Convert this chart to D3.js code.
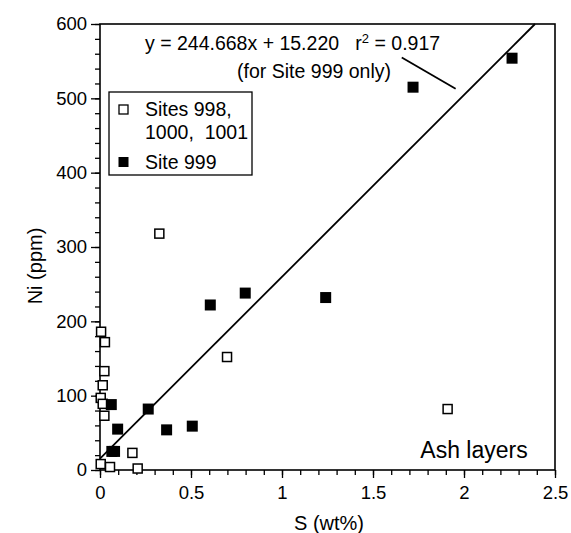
<!DOCTYPE html>
<html><head><meta charset="utf-8">
<script src="https://cdn.jsdelivr.net/npm/d3@7"></script>
<style>body{margin:0;background:#fff}svg{display:block}text{font-family:"Liberation Sans",Arial,sans-serif;fill:#000;white-space:pre}</style>
</head><body>
<svg id="c" width="571" height="533"></svg>
<script>
// Data
const openS  = [0.006,0.027,0.024,0.015,0.004,0.015,0.024,0.004,0.055,0.178,0.207,0.326,0.698,1.91];
const openNi = [186,172,133,114,97,89,73,8,4,23,2,318,152,82];
const fillS  = [0.062,0.097,0.065,0.08,0.265,0.366,0.507,0.606,0.798,1.24,1.72,2.264];
const fillNi = [88,55,25,25,82,54,59,222,238,232,515,554];
const slope = 244.668, intercept = 15.220;
const xTicks = [0,0.5,1,1.5,2,2.5];
const xTickLabels = ["0","0.5","1","1.5","2","2.5"];
const yTicks = [0,100,200,300,400,500,600];
const leaderS = [1.658,1.954], leaderNi = [555,513];
const legendLabels = [["Sites 998,","1000,  1001"],["Site 999"]];

const svg = d3.select("#c");
const x = d3.scaleLinear().domain([0,2.5]).range([100,555]);
const y = d3.scaleLinear().domain([0,600]).range([470,24]);

// frame
svg.append("rect").attr("x",100).attr("y",24).attr("width",455).attr("height",446)
  .attr("fill","none").attr("stroke","#000").attr("stroke-width",1.6);

// axes
const xMinor = d3.range(0,2.5001,0.1);
const yMinor = d3.range(0,600.1,20);
const gx = svg.append("g").attr("transform","translate(0,470)");
gx.call(d3.axisBottom(x).tickValues(xMinor).tickSize(5).tickFormat(""));
gx.call(g=>g.select(".domain").remove());
const gx2 = svg.append("g").attr("transform","translate(0,470)");
gx2.call(d3.axisBottom(x).tickValues(xTicks).tickSize(8).tickPadding(8).tickFormat((d,i)=>xTickLabels[i]));
gx2.select(".domain").remove();
gx2.selectAll("text").attr("font-size",18.5).attr("font-family","Liberation Sans, Arial, sans-serif");
const gy = svg.append("g").attr("transform","translate(100,0)");
gy.call(d3.axisLeft(y).tickValues(yMinor).tickSize(5).tickFormat(""));
gy.select(".domain").remove();
const gy2 = svg.append("g").attr("transform","translate(100,0)");
gy2.call(d3.axisLeft(y).tickValues(yTicks).tickSize(9).tickPadding(4));
gy2.select(".domain").remove();
gy2.selectAll("text").attr("font-size",18.5).attr("font-family","Liberation Sans, Arial, sans-serif");
svg.selectAll(".tick line").attr("stroke","#000").attr("stroke-width",1.3);

// regression line
const xEnd = (600-intercept)/slope;
svg.append("line").attr("x1",x(0)).attr("y1",y(intercept)).attr("x2",x(xEnd)).attr("y2",y(600))
  .attr("stroke","#000").attr("stroke-width",1.8);
svg.append("line").attr("x1",x(leaderS[0])).attr("y1",y(leaderNi[0])).attr("x2",x(leaderS[1])).attr("y2",y(leaderNi[1]))
  .attr("stroke","#000").attr("stroke-width",1.8);

// points
const open = openS.map((s,i)=>({s,ni:openNi[i]}));
const fill = fillS.map((s,i)=>({s,ni:fillNi[i]}));
svg.append("g").selectAll("rect").data(open).join("rect")
  .attr("x",d=>x(d.s)-4.5).attr("y",d=>y(d.ni)-4.5).attr("width",9).attr("height",9)
  .attr("fill","#fff").attr("stroke","#000").attr("stroke-width",1.5);
svg.append("g").selectAll("rect").data(fill).join("rect")
  .attr("x",d=>x(d.s)-5.5).attr("y",d=>y(d.ni)-5.5).attr("width",11).attr("height",11)
  .attr("fill","#000");

// equation
const eq = svg.append("text").attr("x",145).attr("y",50).attr("font-size",19.5);
eq.append("tspan").text("y = 244.668x + 15.220   r");
eq.append("tspan").attr("font-size",13).attr("dy",-7).text("2");
eq.append("tspan").attr("dy",7).text(" = 0.917");
svg.append("text").attr("x",391).attr("y",78).attr("font-size",19.5).attr("text-anchor","end").text("(for Site 999 only)");

// legend
svg.append("rect").attr("x",109).attr("y",92).attr("width",143).attr("height",83)
  .attr("fill","#fff").attr("stroke","#000").attr("stroke-width",1.3);
svg.append("rect").attr("x",119).attr("y",105).attr("width",9).attr("height",9).attr("fill","#fff").attr("stroke","#000").attr("stroke-width",1.3);
svg.append("rect").attr("x",118.5).attr("y",157).attr("width",10).attr("height",10).attr("fill","#000");
svg.append("text").attr("x",145).attr("y",116).attr("font-size",19.5).text(legendLabels[0][0]);
svg.append("text").attr("x",145).attr("y",139).attr("font-size",19.5).text(legendLabels[0][1]);
svg.append("text").attr("x",145).attr("y",169).attr("font-size",19.5).text(legendLabels[1][0]);

// labels
svg.append("text").attr("x",474).attr("y",458).attr("font-size",23).attr("text-anchor","middle").text("Ash layers");
svg.append("text").attr("x",329).attr("y",530).attr("font-size",20).attr("text-anchor","middle").text("S (wt%)");
svg.append("text").attr("transform","translate(42,266) rotate(-90)").attr("font-size",20).attr("text-anchor","middle").text("Ni (ppm)");
</script>
</body></html>
